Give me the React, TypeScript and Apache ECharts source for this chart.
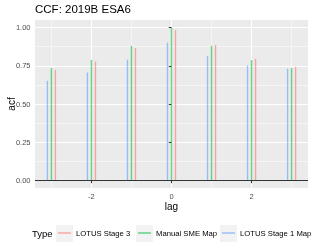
import React, { useEffect, useRef } from "react";
import * as echarts from "echarts";

const lags = [-3, -2, -1, 0, 1, 2, 3];
const seriesNames = ["LOTUS Stage 3", "Manual SME Map", "LOTUS Stage 1 Map"];
const lotusStage3 = [0.724, 0.778, 0.866, 0.983, 0.887, 0.796, 0.744];
const manualSME = [0.735, 0.789, 0.881, 0.998, 0.881, 0.787, 0.735];
const lotusStage1 = [0.652, 0.706, 0.789, 0.902, 0.815, 0.752, 0.731];
const xMajorTicks = [-2, 0, 2];
const xMinorTicks = [-3, -1, 1, 3];
const yMajorTicks = [0, 0.25, 0.5, 0.75, 1];
const yMinorTicks = [0.125, 0.375, 0.625, 0.875];

const FONT = "Liberation Sans";
const seriesValues = [lotusStage3, manualSME, lotusStage1];
const seriesColors = ["rgba(248,118,109,0.6)", "rgba(0,186,56,0.6)", "rgba(97,156,255,0.6)"];
const dodge = [0.1, 0, -0.1];

export default function App() {
  const ref = useRef<HTMLDivElement>(null);
  useEffect(() => {
    if (!ref.current) return;
    const chart = echarts.init(ref.current, undefined, { renderer: "svg" });
    const xMin = -3.41, xMax = 3.41, yMin = -0.05, yMax = 1.05;
    const legendX = [58, 138, 222];
    const baseAxis = {
      type: "value" as const,
      axisLine: { show: false },
    };
    const option: any = {
      animation: false,
      title: {
        text: "CCF: 2019B ESA6",
        left: 35,
        top: 3,
        padding: 0,
        textStyle: { fontSize: 11.5, fontWeight: "normal", color: "#000", fontFamily: FONT },
      },
      grid: {
        left: 35,
        right: 5,
        top: 20,
        bottom: 62,
        show: true,
        backgroundColor: "#EBEBEB",
        borderWidth: 0,
        containLabel: false,
        outerBoundsMode: "none",
      },
      xAxis: [
        {
          ...baseAxis,
          min: xMin,
          max: xMax,
          name: "lag",
          nameLocation: "middle",
          nameGap: 13,
          nameMoveOverlap: false,
          nameTextStyle: { fontSize: 10, color: "#000", fontFamily: FONT, verticalAlign: "top" },
          axisTick: { show: true, customValues: xMajorTicks, length: 2.75, lineStyle: { color: "#333", width: 1 } },
          axisLabel: { customValues: xMajorTicks, color: "#4D4D4D", fontSize: 7.5, margin: 4, fontFamily: FONT },
          splitLine: { show: true, lineStyle: { color: "#fff", width: 1.07 } },
        },
        {
          ...baseAxis,
          min: xMin,
          max: xMax,
          axisTick: { show: false, customValues: xMinorTicks },
          axisLabel: { show: false, customValues: xMinorTicks },
          splitLine: { show: true, lineStyle: { color: "#fff", width: 0.53 } },
        },
      ],
      yAxis: [
        {
          ...baseAxis,
          min: yMin,
          max: yMax,
          name: "acf",
          nameLocation: "middle",
          nameGap: 19,
          nameMoveOverlap: false,
          nameTextStyle: { fontSize: 10, color: "#000", fontFamily: FONT },
          axisTick: { show: true, customValues: yMajorTicks, length: 2.75, lineStyle: { color: "#333", width: 1 } },
          axisLabel: {
            customValues: yMajorTicks,
            color: "#4D4D4D",
            fontSize: 7.5,
            margin: 4.5,
            fontFamily: FONT,
            formatter: (v: number) => v.toFixed(2),
          },
          splitLine: { show: true, lineStyle: { color: "#fff", width: 1.07 } },
        },
        {
          ...baseAxis,
          min: yMin,
          max: yMax,
          axisTick: { show: false, customValues: yMinorTicks },
          axisLabel: { show: false, customValues: yMinorTicks },
          splitLine: { show: true, lineStyle: { color: "#fff", width: 0.53 } },
        },
      ],
      legend: seriesNames.map((name, i) => ({
        data: [name],
        left: legendX[i],
        top: 229,
        padding: 0,
        itemWidth: 13,
        itemHeight: 1.5,
        icon: "rect",
        selectedMode: false,
        textStyle: { fontSize: 7.7, color: "#000", fontFamily: FONT },
      })),
      graphic: [
        ...legendX.map((x) => ({
          type: "rect",
          shape: { x: x - 2, y: 225, width: 17, height: 17 },
          style: { fill: "#F2F2F2" },
          z: 0,
          silent: true,
        })),
        {
          type: "text",
          x: 32,
          y: 233.5,
          style: { text: "Type", fontSize: 9.5, fill: "#000", fontFamily: FONT, verticalAlign: "middle" },
        },
      ],
      series: seriesNames.map((name, i) => ({
        name,
        type: "bar",
        xAxisIndex: 0,
        yAxisIndex: 0,
        barWidth: 1.4,
        barGap: "-100%",
        itemStyle: { color: seriesColors[i] },
        data: lags.map((l, j) => [l + dodge[i], seriesValues[i][j]]),
        markLine:
          i === seriesNames.length - 1
            ? {
                silent: true,
                symbol: ["none", "none"],
                label: { show: false },
                lineStyle: { color: "#333", width: 1.1, type: "solid" },
                data: [{ yAxis: 0 }],
                z: 10,
              }
            : undefined,
      })),
    };
    chart.setOption(option);
    return () => chart.dispose();
  }, []);
  return <div ref={ref} style={{ position: "fixed", left: 0, top: 0, width: 313, height: 250 }} />;
}
